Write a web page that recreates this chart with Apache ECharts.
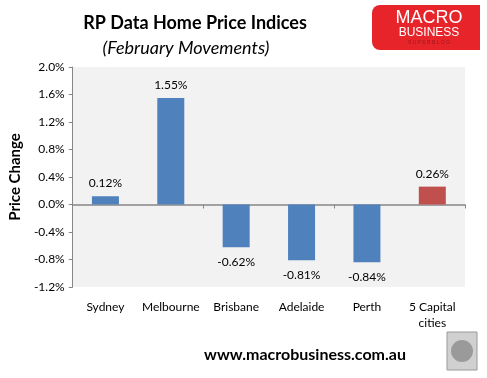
<!DOCTYPE html>
<html>
<head>
<meta charset="utf-8">
<script src="https://cdn.jsdelivr.net/npm/echarts@6/dist/echarts.min.js"></script>
<style>
  html, body { margin: 0; padding: 0; background: #fff; }
  #chart { width: 487px; height: 378px; }
</style>
</head>
<body>
<div id="chart"></div>
<script>
// data
const cities = ['Sydney', 'Melbourne', 'Brisbane', 'Adelaide', 'Perth', '5 Capital\ncities'];
const changes = [0.12, 1.55, -0.62, -0.81, -0.84, 0.26];
const barColors = ['#4F81BD', '#4F81BD', '#4F81BD', '#4F81BD', '#4F81BD', '#C0504D'];

const font = 'Lato, "Liberation Sans", sans-serif';
const chart = echarts.init(document.getElementById('chart'));

let seriesData = changes.map((v, i) => {
    return {
        value: v,
        itemStyle: { color: barColors[i] },
        label: {
            position: v >= 0 ? 'top' : 'bottom',
            distance: v >= 0 ? 7 : 9
        }
    };
});

let options = {
    animation: false,
    textStyle: { fontFamily: font },
    title: [{
        text: 'RP Data Home Price Indices',
        left: 190,
        top: 9,
        textAlign: 'center',
        textStyle: { fontSize: 18, fontWeight: 'bold', color: '#000', fontFamily: font }
    }, {
        text: '(February Movements)',
        left: 181,
        top: 34,
        textAlign: 'center',
        textStyle: { fontSize: 18, fontStyle: 'italic', fontWeight: 'normal', color: '#000', fontFamily: font }
    }],
    grid: {
        left: 68,
        right: 22,
        top: 67,
        bottom: 91,
        show: true,
        backgroundColor: '#F2F2F2',
        borderWidth: 0
    },
    xAxis: [{
        type: 'category',
        data: cities,
        position: 'bottom',
        axisLine: { show: false, onZero: false },
        axisTick: { show: false },
        axisLabel: { margin: 12, fontSize: 12, color: '#000', lineHeight: 16, interval: 0 }
    }, {
        type: 'category',
        data: cities,
        position: 'bottom',
        axisLine: { show: true, onZero: true, lineStyle: { color: '#868686', width: 1.5 } },
        axisTick: { show: true, length: 4, lineStyle: { color: '#868686' } },
        axisLabel: { show: false }
    }],
    yAxis: {
        type: 'value',
        min: -1.2,
        max: 2.0,
        interval: 0.4,
        name: 'Price Change',
        nameLocation: 'middle',
        nameGap: 49,
        nameRotate: 90,
        nameTextStyle: { fontSize: 15, fontWeight: 'bold', color: '#000' },
        axisLine: { show: true, lineStyle: { color: '#868686' } },
        axisTick: { show: true, length: 4, lineStyle: { color: '#868686' } },
        axisLabel: {
            margin: 8,
            fontSize: 12,
            color: '#000',
            formatter: function(v) { return v.toFixed(1) + '%'; }
        },
        splitLine: { show: false }
    },
    series: [{
        type: 'bar',
        xAxisIndex: 0,
        data: seriesData,
        barWidth: 27,
        label: {
            show: true,
            fontSize: 12,
            color: '#000',
            formatter: function(p) { return p.value.toFixed(2) + '%'; }
        }
    }],
    graphic: [{
        // logo box
        type: 'rect',
        shape: { x: 372, y: 5, width: 108, height: 45, r: [8, 0, 0, 8] },
        style: { fill: '#E8242B' }
    }, {
        type: 'text',
        style: { x: 429, y: 18, text: 'MACRO', fill: '#fff', font: '18px "Liberation Sans", sans-serif', align: 'center', verticalAlign: 'middle' }
    }, {
        type: 'text',
        style: { x: 429, y: 33, text: 'BUSINESS', fill: '#fff', font: '12px "Liberation Sans", sans-serif', align: 'center', verticalAlign: 'middle' }
    }, {
        type: 'text',
        style: { x: 429, y: 43, text: 'S U P E R B L O G', fill: '#A0141A', font: '5px "Liberation Sans", sans-serif', align: 'center', verticalAlign: 'middle' }
    }, {
        type: 'text',
        style: { x: 305, y: 355, text: 'www.macrobusiness.com.au', fill: '#000', font: 'bold 16px ' + font, align: 'center', verticalAlign: 'middle' }
    }, {
        // wolf picture placeholder
        type: 'rect',
        shape: { x: 447, y: 332, width: 30, height: 38 },
        style: { fill: '#D0D0D0', stroke: '#999', lineWidth: 1 }
    }, {
        type: 'circle',
        shape: { cx: 462, cy: 351, r: 11 },
        style: { fill: '#9A9A9A' }
    }]
};

chart.setOption(options);
</script>
</body>
</html>
